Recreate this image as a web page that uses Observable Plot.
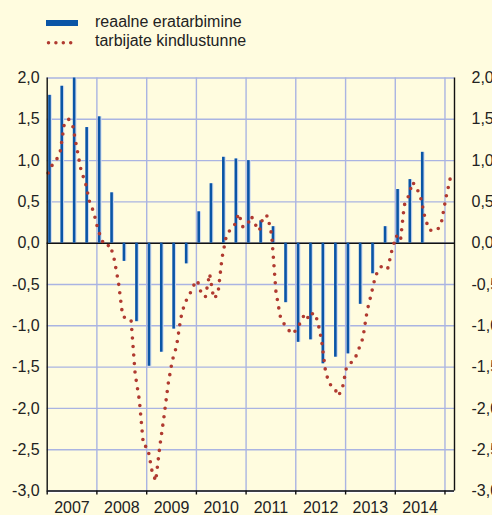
<!DOCTYPE html>
<html><head><meta charset="utf-8">
<script src="https://cdn.jsdelivr.net/npm/d3@7"></script>
<script src="https://cdn.jsdelivr.net/npm/@observablehq/plot@0.6"></script>
<style>
html,body{margin:0;padding:0;background:#fffcdf;width:492px;height:515px;overflow:hidden}
#wrap{position:relative;width:492px;height:515px}
#legend{position:absolute;left:0;top:0;width:492px;height:60px;font:16px "Liberation Sans",Arial,sans-serif;color:#222}
#legend .t{position:absolute;left:95px;line-height:18px;white-space:nowrap}
</style></head>
<body><div id="wrap"><div id="chart"></div><div id="legend"></div></div>
<script>
// ---- data ----
const seriesNames = ["reaalne eratarbimine", "tarbijate kindlustunne"];
const yearLabels = [2007, 2008, 2009, 2010, 2011, 2012, 2013, 2014];
// quarterly, 2007Q1 .. 2014Q3
const barValues = [
  1.79, 1.90, 2.00, 1.40,
  1.53, 0.61, -0.22, -0.95,
  -1.49, -1.32, -1.04, -0.25,
  0.38, 0.72, 1.04, 1.02,
  1.00, 0.27, 0.20, -0.72,
  -1.20, -1.17, -1.46, -1.38,
  -1.34, -0.74, -0.37, 0.20,
  0.65, 0.77, 1.10
];
// monthly, Jan 2007 .. Feb 2015
const lineValues = [
  0.85, 0.95, 1.00, 1.12, 1.46, 1.50, 1.42, 1.14, 0.87, 0.74, 0.50, 0.38,
  0.17, 0.03, -0.04, -0.02, -0.20, -0.48, -0.88, -0.92, -0.93, -1.58, -1.90, -2.45,
  -2.47, -2.75, -2.88, -2.45, -2.10, -1.70, -1.42, -1.25, -0.91, -0.72, -0.64, -0.52,
  -0.45, -0.62, -0.65, -0.37, -0.67, -0.62, -0.18, 0.08, 0.17, 0.22, 0.36, 0.20,
  0.21, 0.33, 0.23, 0.15, 0.33, 0.33, 0.10, -0.58, -0.88, -0.98, -1.05, -1.10,
  -1.04, -0.95, -0.85, -0.92, -0.84, -0.93, -1.17, -1.57, -1.71, -1.74, -1.85, -1.76,
  -1.50, -1.45, -1.41, -1.28, -1.15, -0.82, -0.62, -0.40, -0.30, -0.26, -0.30, -0.08,
  0.09, 0.03, 0.46, 0.57, 0.74, 0.67, 0.54, 0.30, 0.16, 0.15, 0.16, 0.27,
  0.55, 0.78
];
const yTicks = [-3, -2.5, -2, -1.5, -1, -0.5, 0, 0.5, 1, 1.5, 2];

// ---- style ----
const BLUE = "#0a55a6", RED = "#b03a30", GRID = "#aab4e2";
const day = 864e5;
const utc = (y, m, d) => new Date(Date.UTC(y, m, d));

const bars = barValues.map((v, i) => {
  const s = utc(2007 + Math.floor(i / 4), (i % 4) * 3, 1);
  return {start: s, value: v};
});
const line = lineValues.map((v, m) => ({date: utc(2007, m, 8), value: v}));
const yearStarts = d3.range(2007, 2016).map(y => utc(y, 0, 1));
const yearMids = yearLabels.map(y => utc(y, 6, 2));
const xDomain = [utc(2007, 0, 1), utc(2015, 2, 12)];
const fmt = d => d.toFixed(1).replace(".", ",");

const chart = Plot.plot({
  width: 492, height: 515,
  marginTop: 77.5, marginBottom: 24.5, marginLeft: 46.7, marginRight: 38,
  style: {background: "transparent", fontFamily: "'Liberation Sans', Arial, sans-serif", fontSize: "16px", color: "#222"},
  x: {type: "utc", domain: xDomain},
  y: {domain: [-3, 2]},
  marks: [
    Plot.gridY(yTicks, {stroke: GRID, strokeOpacity: 1, strokeWidth: 1.4}),
    Plot.gridX(yearStarts.slice(1), {stroke: GRID, strokeOpacity: 1, strokeWidth: 1.4}),
    Plot.rectY(bars, {x1: d => new Date(+d.start + 11 * day), x2: d => new Date(+d.start + 38 * day), y: "value", fill: "#cdd9ef"}),
    Plot.ruleY([0], {stroke: "#111", strokeWidth: 1.6}),
    Plot.rectY(bars, {x1: d => new Date(+d.start + 11 * day), x2: d => new Date(+d.start + 30 * day), y: "value", fill: BLUE}),
    Plot.line(line, {x: "date", y: "value", stroke: RED, strokeWidth: 3.6, strokeDasharray: "0 8.5", strokeLinecap: "round", strokeLinejoin: "round"}),
    Plot.ruleX([xDomain[0]], {stroke: "#111", strokeWidth: 1.4}),
    Plot.ruleX([xDomain[1]], {stroke: "#111", strokeWidth: 1.4}),
    Plot.ruleY([-3], {stroke: "#fff", strokeWidth: 1.2, dy: 1.6}),
    Plot.ruleY([-3], {stroke: "#111", strokeWidth: 1.4}),
    Plot.axisY({anchor: "left", ticks: yTicks, tickSize: 0, tickPadding: 7.5, tickFormat: fmt, label: null}),
    Plot.axisY({anchor: "right", ticks: yTicks, tickSize: 0, tickPadding: 17, tickFormat: fmt, label: null}),
    Plot.axisX({ticks: yearStarts, tickSize: 4, tickFormat: () => "", stroke: "#111", strokeWidth: 1.4, label: null}),
    Plot.axisX({ticks: yearMids, tickSize: 0, tickPadding: 11, tickFormat: d => String(d.getUTCFullYear()), label: null})
  ]
});
document.getElementById("chart").appendChild(chart);

// ---- legend ----
const lg = document.getElementById("legend");
lg.innerHTML = `
  <div style="position:absolute;left:46px;top:20px;width:32px;height:6px;background:${BLUE}"></div>
  <div class="t" style="top:13px">${seriesNames[0]}</div>
  <svg style="position:absolute;left:44px;top:38px" width="40" height="10">
    <line x1="4.5" x2="34" y1="4.7" y2="4.7" stroke="${RED}" stroke-width="3.5" stroke-dasharray="0 7.4" stroke-linecap="round"/>
  </svg>
  <div class="t" style="top:32px">${seriesNames[1]}</div>`;
</script>
</body></html>
